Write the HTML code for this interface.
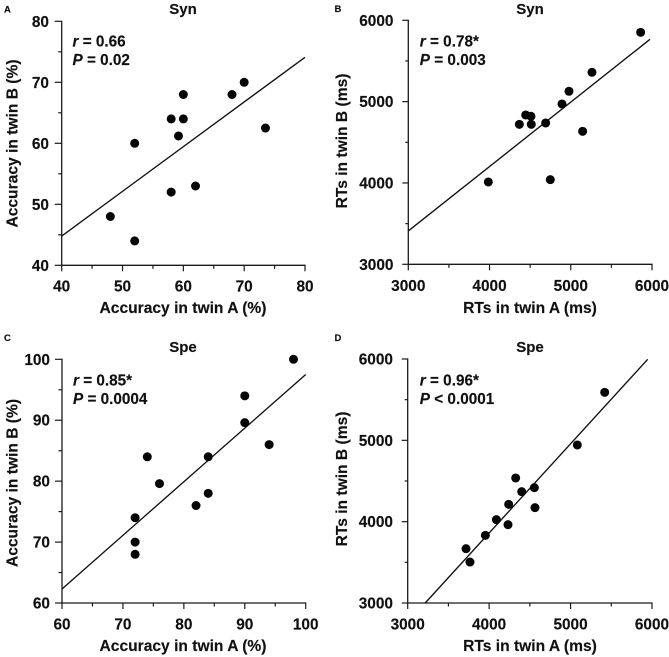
<!DOCTYPE html>
<html>
<head>
<meta charset="utf-8">
<style>
html,body{margin:0;padding:0;background:#fff;}
svg{display:block;}
text{font-family:"Liberation Sans",Arial,sans-serif;font-weight:bold;fill:#111;stroke:#111;stroke-width:0.15;}
</style>
</head>
<body>
<svg id="chart" width="669" height="657" viewBox="0 0 669 657" xmlns="http://www.w3.org/2000/svg"></svg>
<script>
var xTicksA = [40, 50, 60, 70, 80];
var yTicksA = [40, 50, 60, 70, 80];
var xValuesA = [48, 52, 52, 58, 58, 59.2, 60, 60, 62, 68, 70, 73.5];
var yValuesA = [48, 60, 44, 64, 52, 61.2, 68, 64, 53, 68, 70, 62.5];
var fitXA = [40, 80];
var fitYA = [44.8, 74.1];

var xTicksB = [3000, 4000, 5000, 6000];
var yTicksB = [3000, 4000, 5000, 6000];
var xValuesB = [3985, 4367, 4445, 4510, 4514, 4691, 4748, 4892, 4978, 5146, 5261, 5860];
var yValuesB = [4012, 4721, 4836, 4820, 4721, 4738, 4041, 4971, 5127, 4635, 5361, 5852];
var fitXB = [3000, 5975];
var fitYB = [3410, 5766];

var xTicksC = [60, 70, 80, 90, 100];
var yTicksC = [60, 70, 80, 90, 100];
var xValuesC = [72, 72, 72, 74, 76, 82, 84, 84, 90, 90, 94, 98];
var yValuesC = [74, 70, 68, 84, 79.6, 76, 84, 78, 94, 89.6, 86, 100];
var fitXC = [60, 100];
var fitYC = [62.3, 97.5];

var xTicksD = [3000, 4000, 5000, 6000];
var yTicksD = [3000, 4000, 5000, 6000];
var xValuesD = [3716, 3765, 3954, 4089, 4232, 4240, 4326, 4400, 4555, 4563, 5083, 5419];
var yValuesD = [3668, 3504, 3832, 4025, 3963, 4213, 4537, 4369, 4418, 4172, 4943, 5590];
var fitXD = [3215, 5947];
var fitYD = [3000, 5996];

var svg = document.getElementById('chart');
var NS = 'http://www.w3.org/2000/svg';

function make(tag, attrs, parent) {
  var el = document.createElementNS(NS, tag);
  for (var k in attrs) el.setAttribute(k, attrs[k]);
  parent.appendChild(el);
  return el;
}

function stroke(x1, y1, x2, y2, w, parent) {
  return make('line', {x1: x1, y1: y1, x2: x2, y2: y2, stroke: '#1a1a1a', 'stroke-width': w}, parent);
}

function panel(p) {
  var g = make('g', {}, svg);
  
  

  var xMin = p.xTicks[0], xMax = p.xTicks[p.xTicks.length - 1];
  var yMin = p.yTicks[0], yMax = p.yTicks[p.yTicks.length - 1];
  function sx(v) { return p.left + (v - xMin) / (xMax - xMin) * (p.right - p.left); }
  function sy(v) { return p.bottom - (v - yMin) / (yMax - yMin) * (p.bottom - p.top); }

  var letter = make('text', {x: p.letterX, y: p.letterY, 'font-size': 9.5}, g);
  letter.textContent = p.id;
  
  

  var title = make('text', {x: p.titleX, y: p.titleY, 'font-size': 15, 'text-anchor': 'middle'}, g);
  title.textContent = p.title;
  
  

  var xAxis = stroke(p.left - 0.6, p.bottom, p.right + 0.6, p.bottom, 1.3, g);
  
  
  var yAxis = stroke(p.left, p.top - 0.6, p.left, p.bottom + 0.6, 1.3, g);
  
  

  p.xTicks.forEach(function (v, i) {
    var t = stroke(sx(v), p.bottom, sx(v), p.bottom + 6, 1.2, g);
    
    
    var lab = make('text', {x: sx(v), y: p.xLabelY, 'font-size': 15.4, 'text-anchor': 'middle'}, g);
    lab.textContent = v;
    
    
    if (i < p.xTicks.length - 1) {
      var mid = (v + p.xTicks[i + 1]) / 2;
      var m = stroke(sx(mid), p.bottom, sx(mid), p.bottom + 3.5, 1.2, g);
      
      
    }
  });

  p.yTicks.forEach(function (v, i) {
    var t = stroke(p.left - p.yTickLen, sy(v), p.left, sy(v), 1.2, g);
    
    
    var lab = make('text', {x: p.yLabelX, y: sy(v) + 5.5, 'font-size': 15.4, 'text-anchor': 'end'}, g);
    lab.textContent = v;
    
    
    if (i < p.yTicks.length - 1) {
      var mid = (v + p.yTicks[i + 1]) / 2;
      var m = stroke(p.left - p.yTickLen / 2, sy(mid), p.left, sy(mid), 1.2, g);
      
      
    }
  });

  var xt = make('text', {x: p.xTitleX, y: p.xTitleY, 'font-size': 15.6, 'text-anchor': 'middle'}, g);
  xt.textContent = p.xTitle;
  
  

  var yt = make('text', {
    x: 0, y: 0, 'font-size': 15.6, 'text-anchor': 'middle',
    transform: 'translate(' + p.yTitleX + ',' + p.yTitleY + ') rotate(-90)'
  }, g);
  yt.textContent = p.yTitle;
  
  

  var fit = make('line', {
    x1: sx(p.fitX[0]), y1: sy(p.fitY[0]), x2: sx(p.fitX[1]), y2: sy(p.fitY[1]),
    stroke: '#111', 'stroke-width': 1.35
  }, g);
  
  

  p.xValues.forEach(function (v, i) {
    var c = make('circle', {cx: sx(v), cy: sy(p.yValues[i]), r: 4.5, fill: '#050505'}, g);
    
    
  });

  var rText = make('text', {x: p.statX, y: p.statY, 'font-size': 15.3}, g);
  
  
  var rI = make('tspan', {'font-style': 'italic'}, rText);
  rI.textContent = 'r';
  var rV = make('tspan', {}, rText);
  rV.textContent = p.rText;

  var pText = make('text', {x: p.statX, y: p.statY + 18.5, 'font-size': 15.3}, g);
  
  
  var pI = make('tspan', {'font-style': 'italic'}, pText);
  pI.textContent = 'P';
  var pV = make('tspan', {}, pText);
  pV.textContent = p.pText;
}

panel({id: 'A', title: 'Syn', xTitle: 'Accuracy in twin A (%)', yTitle: 'Accuracy in twin B (%)',
  left: 61.7, right: 305, top: 21.3, bottom: 265.3, yTickLen: 7,
  letterX: 4, letterY: 12.5, titleX: 183, titleY: 14, xLabelY: 291.5, yLabelX: 49,
  xTitleX: 183, xTitleY: 313, yTitleX: 17.5, yTitleY: 143.5, statX: 72.5, statY: 46.5,
  rText: ' = 0.66', pText: ' = 0.02',
  xTicks: xTicksA, yTicks: yTicksA, xValues: xValuesA, yValues: yValuesA, fitX: fitXA, fitY: fitYA});

panel({id: 'B', title: 'Syn', xTitle: 'RTs in twin A (ms)', yTitle: 'RTs in twin B (ms)',
  left: 408.3, right: 652, top: 20.3, bottom: 264.3, yTickLen: 6,
  letterX: 334.5, letterY: 12, titleX: 530, titleY: 14, xLabelY: 290.8, yLabelX: 393.5,
  xTitleX: 530, xTitleY: 313, yTitleX: 347, yTitleY: 141, statX: 419.8, statY: 46.5,
  rText: ' = 0.78*', pText: ' = 0.003',
  xTicks: xTicksB, yTicks: yTicksB, xValues: xValuesB, yValues: yValuesB, fitX: fitXB, fitY: fitYB});

panel({id: 'C', title: 'Spe', xTitle: 'Accuracy in twin A (%)', yTitle: 'Accuracy in twin B (%)',
  left: 62, right: 305.7, top: 359.3, bottom: 603, yTickLen: 7,
  letterX: 4, letterY: 341, titleX: 183, titleY: 352, xLabelY: 629.5, yLabelX: 50,
  xTitleX: 183, xTitleY: 651, yTitleX: 17.5, yTitleY: 483, statX: 73, statY: 385.5,
  rText: ' = 0.85*', pText: ' = 0.0004',
  xTicks: xTicksC, yTicks: yTicksC, xValues: xValuesC, yValues: yValuesC, fitX: fitXC, fitY: fitYC});

panel({id: 'D', title: 'Spe', xTitle: 'RTs in twin A (ms)', yTitle: 'RTs in twin B (ms)',
  left: 407.7, right: 652, top: 359, bottom: 603, yTickLen: 6,
  letterX: 334.5, letterY: 341, titleX: 530, titleY: 352, xLabelY: 629.5, yLabelX: 393,
  xTitleX: 530, xTitleY: 651, yTitleX: 347, yTitleY: 479, statX: 419.8, statY: 385.5,
  rText: ' = 0.96*', pText: ' < 0.0001',
  xTicks: xTicksD, yTicks: yTicksD, xValues: xValuesD, yValues: yValuesD, fitX: fitXD, fitY: fitYD});
</script>
</body>
</html>
